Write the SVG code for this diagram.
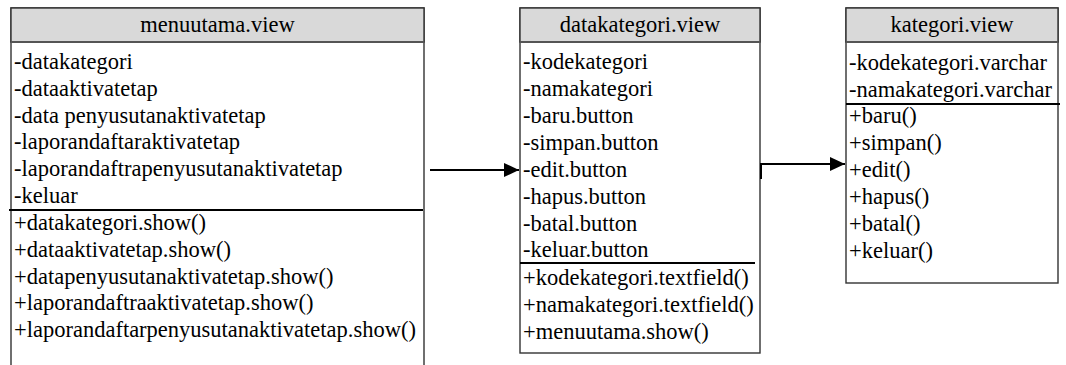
<svg xmlns="http://www.w3.org/2000/svg" width="1066" height="365" viewBox="0 0 1066 365">
  <defs>
    <style>
      text { font-family: "Liberation Serif", "Times New Roman", serif; font-size: 22.5px; fill: #000; }
      .h { text-anchor: middle; }
      .box { fill: #fff; stroke: #333; stroke-width: 1.4; }
      .hdr { fill: #d9d9d9; stroke: #333; stroke-width: 1.4; }
      .hline { stroke: #555; stroke-width: 2; }
      .sep { stroke: #000; stroke-width: 2; }
      .conn { fill: none; stroke: #000; stroke-width: 2; }
    </style>
    <marker id="arr" markerWidth="16" markerHeight="14" refX="15" refY="7" orient="auto" markerUnits="userSpaceOnUse">
      <path d="M0,0 L15,7 L0,14 Z" fill="#000"/>
    </marker>
  </defs>
  <rect width="1066" height="365" fill="#fff"/>

  <g id="menuutama" font-family="Liberation Serif">
    <path d="M11,366 V8 H424 V366" class="box"/>
    <rect x="11" y="8" width="413" height="34" class="hdr"/>
    <line x1="11" y1="42" x2="424" y2="42" class="hline"/>
    <line x1="9" y1="210" x2="423" y2="210" class="sep"/>
    <text class="h" x="217.5" y="32">menuutama.view</text>
    <text x="14" y="69">-datakategori</text>
    <text x="14" y="96">-dataaktivatetap</text>
    <text x="14" y="123">-data penyusutanaktivatetap</text>
    <text x="14" y="149">-laporandaftaraktivatetap</text>
    <text x="14" y="176">-laporandaftrapenyusutanaktivatetap</text>
    <text x="14" y="203">-keluar</text>
    <text x="14" y="230">+datakategori.show()</text>
    <text x="14" y="257">+dataaktivatetap.show()</text>
    <text x="14" y="284">+datapenyusutanaktivatetap.show()</text>
    <text x="14" y="310">+laporandaftraaktivatetap.show()</text>
    <text x="14" y="337">+laporandaftarpenyusutanaktivatetap.show()</text>
  </g>

  <g id="datakategori" font-family="Liberation Serif">
    <rect x="520" y="8" width="240" height="345" class="box"/>
    <rect x="520" y="8" width="240" height="34" class="hdr"/>
    <line x1="520" y1="42" x2="760" y2="42" class="hline"/>
    <line x1="520" y1="263" x2="755" y2="263" class="sep"/>
    <text class="h" x="640" y="32">datakategori.view</text>
    <text x="523" y="69">-kodekategori</text>
    <text x="523" y="96">-namakategori</text>
    <text x="523" y="123">-baru.button</text>
    <text x="523" y="150">-simpan.button</text>
    <text x="523" y="177">-edit.button</text>
    <text x="523" y="204">-hapus.button</text>
    <text x="523" y="231">-batal.button</text>
    <text x="523" y="257">-keluar.button</text>
    <text x="523" y="285">+kodekategori.textfield()</text>
    <text x="523" y="312">+namakategori.textfield()</text>
    <text x="523" y="339">+menuutama.show()</text>
  </g>

  <g id="kategori" font-family="Liberation Serif">
    <rect x="846" y="8" width="212" height="275" class="box"/>
    <rect x="846" y="8" width="212" height="34" class="hdr"/>
    <line x1="846" y1="42" x2="1058" y2="42" class="hline"/>
    <line x1="846" y1="104" x2="1060" y2="104" class="sep"/>
    <text class="h" x="952" y="32">kategori.view</text>
    <text x="849" y="70">-kodekategori.varchar</text>
    <text x="849" y="97">-namakategori.varchar</text>
    <text x="849" y="123">+baru()</text>
    <text x="849" y="150">+simpan()</text>
    <text x="849" y="177">+edit()</text>
    <text x="849" y="204">+hapus()</text>
    <text x="849" y="231">+batal()</text>
    <text x="849" y="258">+keluar()</text>
  </g>

  <g id="connectors">
    <line x1="430" y1="170" x2="519" y2="170" class="conn" marker-end="url(#arr)"/>
    <path d="M761,179 V164 H845" class="conn" marker-end="url(#arr)"/>
  </g>
</svg>
